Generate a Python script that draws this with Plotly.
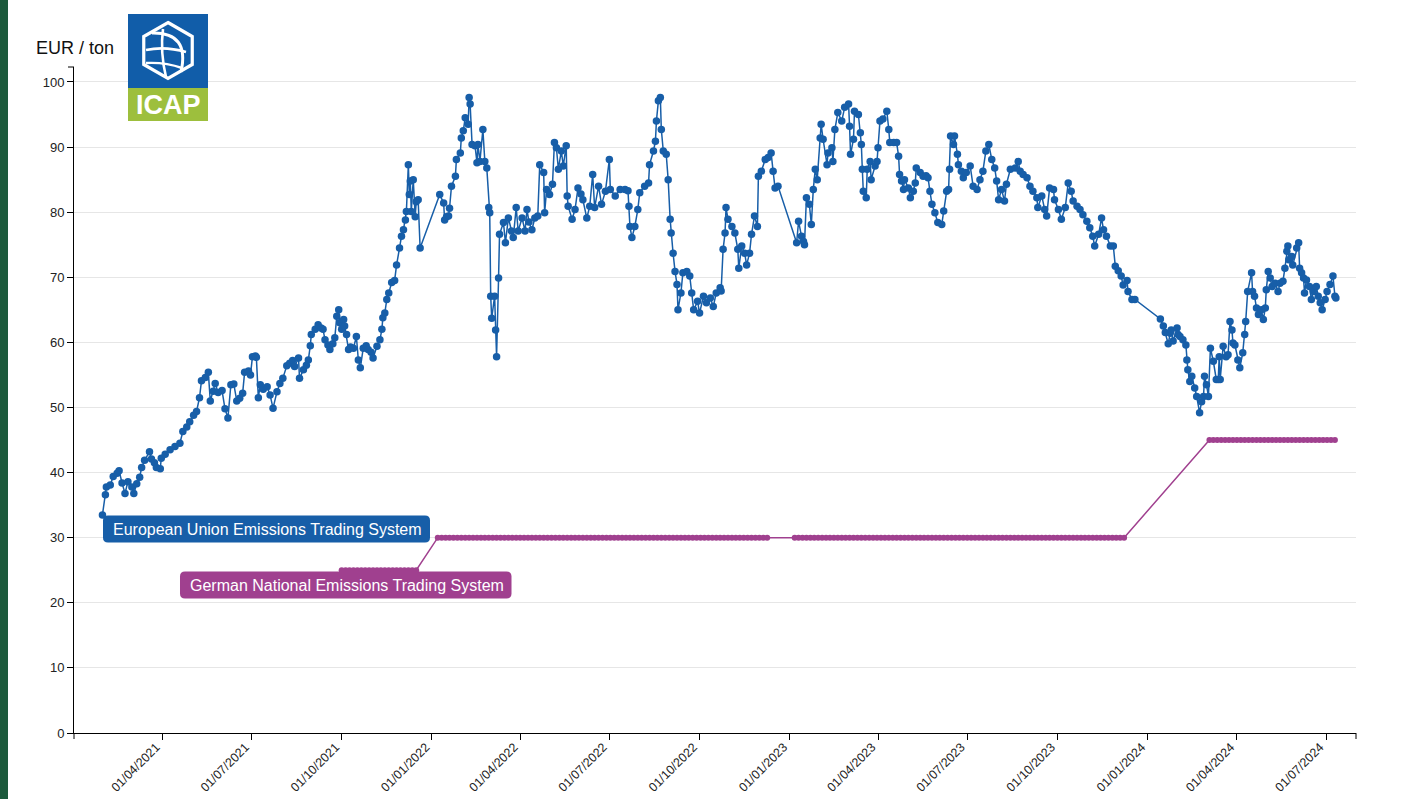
import plotly.graph_objects as go
import pandas as pd

# ---------------- data ----------------
BASE_DATE = "2021-01-01"  # eu_day_offsets are days counted from this date

eu_day_offsets = [
    29, 32, 33, 37, 40, 44, 46, 49, 52, 55,
    59, 61, 64, 67, 69, 72, 77, 79, 82, 84,
    88, 89, 93, 98, 103, 108, 111, 115, 118, 122,
    125, 128, 130, 134, 137, 139, 142, 144, 147, 151,
    154, 157, 160, 163, 166, 169, 172, 174, 178, 180,
    182, 185, 186, 188, 190, 193, 197, 200, 203, 207,
    210, 213, 217, 220, 223, 225, 229, 230, 234, 237,
    239, 241, 242, 246, 249, 252, 254, 256, 259, 261,
    264, 266, 268, 270, 271, 273, 275, 276, 278, 280,
    282, 285, 288, 290, 292, 295, 298, 300, 303, 305,
    309, 312, 314, 315, 317, 319, 321, 324, 327, 329,
    332, 334, 336, 338, 339, 341, 342, 343, 344, 346,
    348, 349, 351, 353, 373, 377, 378, 380, 382, 383,
    385, 389, 390, 394, 395, 397, 399, 402, 403, 404,
    406, 409, 411, 412, 414, 417, 419, 421, 423, 424,
    425, 426, 429, 430, 431, 433, 434, 438, 440, 443,
    446, 448, 451, 453, 457, 460, 462, 464, 467, 470,
    473, 475, 479, 480, 482, 485, 488, 490, 492, 494,
    497, 499, 502, 503, 504, 508, 511, 514, 517, 519,
    523, 526, 529, 531, 535, 538, 542, 546, 547, 552,
    557, 562, 565, 566, 567, 569, 572, 575, 577, 582,
    586, 587, 591, 593, 594, 596, 598, 599, 601, 604,
    606, 608, 609, 611, 613, 615, 616, 619, 621, 625,
    628, 630, 632, 636, 638, 642, 645, 649, 652, 655,
    659, 660, 662, 664, 665, 667, 671, 674, 677, 678,
    681, 684, 686, 689, 691, 694, 697, 698, 701, 705,
    708, 711, 713, 715, 718, 737, 739, 742, 744, 745,
    747, 750, 752, 754, 756, 758, 761, 762, 764, 768,
    769, 773, 774, 776, 779, 783, 786, 790, 791, 792,
    795, 796, 800, 802, 803, 804, 805, 808, 809, 812,
    813, 817, 819, 820, 822, 825, 829, 831, 832, 836,
    839, 841, 842, 844, 846, 847, 851, 853, 856, 858,
    859, 863, 866, 869, 871, 873, 875, 878, 881, 885,
    887, 890, 892, 893, 894, 897, 898, 901, 902, 905,
    907, 910, 914, 917, 921, 924, 927, 930, 933, 936,
    939, 941, 943, 946, 949, 951, 955, 960, 963, 965,
    968, 972, 975, 978, 982, 983, 987, 990, 992, 995,
    999, 1000, 1004, 1007, 1011, 1014, 1017, 1019, 1023, 1026,
    1029, 1033, 1036, 1039, 1041, 1045, 1048, 1050, 1053, 1057,
    1060, 1062, 1065, 1068, 1070, 1074, 1075, 1079, 1082, 1108,
    1111, 1113, 1116, 1118, 1119, 1121, 1125, 1126, 1128, 1131,
    1134, 1135, 1136, 1138, 1140, 1143, 1145, 1148, 1150, 1152,
    1153, 1155, 1157, 1159, 1162, 1165, 1167, 1168, 1169, 1172,
    1175, 1177, 1179, 1181, 1182, 1184, 1187, 1189, 1192, 1194,
    1195, 1197, 1201, 1202, 1204, 1206, 1208, 1211, 1213, 1215,
    1216, 1218, 1220, 1222, 1225, 1228, 1230, 1233, 1235, 1237,
    1238, 1239, 1242, 1243, 1247, 1249, 1250, 1252, 1254, 1255,
    1257, 1260, 1262, 1264, 1267, 1269, 1271, 1273, 1276, 1278,
    1281, 1284, 1286, 1287,
]

eu_prices = [
    33.5, 36.6, 37.8, 38.1, 39.4, 39.9, 40.3, 38.4, 36.8, 38.6,
    37.8, 36.8, 38.3, 39.3, 40.8, 41.9, 43.2, 42.1, 41.5, 40.8,
    40.6, 42.2, 42.8, 43.5, 44.0, 44.5, 46.3, 47.0, 47.8, 48.8,
    49.4, 51.5, 54.1, 54.6, 55.4, 51.0, 52.5, 53.7, 52.3, 52.6,
    49.8, 48.4, 53.5, 53.6, 51.0, 51.4, 52.2, 55.4, 55.6, 55.0,
    57.8, 57.9, 57.7, 51.5, 53.5, 52.8, 53.2, 51.9, 49.9, 52.4,
    53.7, 54.5, 56.4, 56.8, 57.2, 56.3, 57.6, 54.5, 55.8, 56.5,
    57.3, 59.5, 61.2, 62.0, 62.7, 62.2, 62.0, 60.4, 59.6, 58.9,
    59.8, 60.7, 64.0, 65.0, 63.0, 62.0, 63.5, 62.5, 61.2, 58.9,
    59.3, 59.1, 60.9, 57.3, 56.1, 59.1, 59.5, 58.9, 58.5, 57.6,
    59.4, 60.4, 62.0, 63.8, 64.5, 66.6, 67.6, 69.2, 69.5, 71.9,
    74.5, 76.3, 77.3, 78.8, 80.1, 87.3, 82.7, 84.8, 80.1, 85.0,
    79.3, 81.6, 81.9, 74.5, 82.7, 81.4, 78.8, 79.3, 79.4, 80.6,
    84.0, 85.5, 88.1, 89.1, 91.4, 92.5, 94.5, 93.5, 97.6, 96.6,
    90.4, 90.2, 87.6, 90.4, 87.8, 92.7, 87.8, 86.8, 80.7, 79.9,
    67.1, 63.7, 67.1, 61.9, 57.8, 69.9, 76.6, 78.4, 75.3, 79.1,
    77.1, 76.1, 80.7, 77.1, 79.1, 77.1, 80.4, 78.5, 77.3, 79.1,
    79.4, 87.3, 86.1, 79.9, 83.5, 82.7, 84.3, 90.7, 89.9, 86.6,
    89.4, 87.1, 90.2, 82.5, 80.9, 78.9, 80.4, 83.7, 82.8, 81.9,
    79.1, 80.9, 85.8, 80.7, 84.0, 81.2, 83.2, 88.1, 83.5, 82.5,
    83.5, 83.5, 83.3, 80.9, 77.8, 76.1, 77.8, 80.4, 83.0, 84.0,
    84.5, 87.3, 89.4, 90.9, 94.0, 97.1, 97.6, 92.7, 89.4, 88.9,
    85.0, 78.9, 76.8, 73.7, 70.9, 68.9, 65.0, 67.6, 70.7, 70.9,
    70.2, 67.6, 65.0, 66.3, 64.5, 67.1, 66.1, 66.8, 65.5, 67.6,
    68.4, 67.9, 74.3, 76.8, 80.7, 78.9, 77.8, 76.8, 74.3, 71.4,
    74.8, 73.7, 71.9, 73.7, 76.6, 79.4, 77.8, 85.5, 86.3, 88.1,
    88.4, 89.1, 86.3, 83.7, 84.0, 75.3, 78.6, 76.3, 75.5, 75.0,
    82.2, 81.2, 78.1, 83.5, 86.6, 85.0, 91.4, 93.5, 91.2, 87.3,
    89.1, 89.9, 87.8, 92.7, 95.3, 94.0, 96.1, 96.6, 93.2, 88.9,
    91.2, 95.5, 95.0, 92.2, 90.4, 86.6, 83.2, 82.2, 86.6, 87.8,
    85.0, 87.1, 87.8, 89.9, 94.0, 94.3, 95.5, 92.7, 90.7, 90.7,
    90.7, 88.6, 85.8, 84.8, 83.5, 85.0, 83.7, 82.2, 83.2, 84.5,
    86.8, 86.1, 85.5, 85.6, 85.3, 83.2, 81.2, 79.9, 78.4, 78.1,
    80.2, 83.2, 83.5, 86.6, 91.7, 90.4, 91.7, 88.9, 87.3, 86.3,
    85.3, 86.1, 87.1, 84.0, 83.5, 85.0, 86.3, 89.4, 90.4, 88.1,
    86.8, 84.8, 81.9, 83.5, 81.7, 84.3, 86.6, 86.8, 87.8, 86.3,
    85.8, 85.3, 84.0, 83.2, 82.2, 80.7, 82.5, 80.4, 79.4, 83.7,
    83.5, 81.9, 80.4, 78.9, 80.7, 84.5, 83.2, 81.7, 80.9, 80.4,
    79.6, 78.6, 77.6, 76.3, 74.8, 76.6, 79.1, 77.3, 76.3, 74.8,
    74.8, 71.7, 71.0, 70.2, 68.8, 69.5, 67.8, 66.6, 66.6, 63.6,
    62.5, 61.5, 59.8, 61.4, 61.9, 60.2, 62.2, 61.2, 60.9, 60.4,
    59.6, 57.3, 55.8, 54.0, 54.8, 53.0, 51.7, 49.2, 50.9, 51.7,
    54.8, 53.5, 51.7, 59.1, 57.1, 54.3, 54.3, 57.8, 54.3, 59.4,
    57.8, 58.1, 63.2, 61.9, 59.9, 59.6, 57.3, 56.1, 58.4, 61.2,
    63.2, 67.8, 70.7, 67.8, 67.1, 65.3, 64.3, 65.0, 63.5, 65.3,
    68.1, 70.9, 69.9, 68.6, 69.1, 67.8, 69.1, 69.4, 71.4, 74.0,
    74.8, 72.7, 73.2, 71.9, 74.5, 75.3, 71.4, 70.7, 69.9, 67.6,
    69.6, 68.6, 66.6, 67.8, 68.6, 67.1, 66.1, 65.0, 66.6, 67.8,
    68.9, 70.2, 67.1, 66.8,
]

# German nEHS: fixed price periods (start, end, EUR/ton)
de_period_start = ["2021-10-01", "2022-01-07", "2023-01-06", "2024-03-04"]
de_period_end = ["2021-12-17", "2022-12-09", "2023-12-08", "2024-07-12"]
de_period_price = [25, 30, 30, 45]

tick_dates = ["2021-04-01", "2021-07-01", "2021-10-01", "2022-01-01", "2022-04-01",
              "2022-07-01", "2022-10-01", "2023-01-01", "2023-04-01", "2023-07-01",
              "2023-10-01", "2024-01-01", "2024-04-01", "2024-07-01"]
tick_labels = ["01/04/2021", "01/07/2021", "01/10/2021", "01/01/2022", "01/04/2022",
               "01/07/2022", "01/10/2022", "01/01/2023", "01/04/2023", "01/07/2023",
               "01/10/2023", "01/01/2024", "01/04/2024", "01/07/2024"]
y_ticks = [0, 10, 20, 30, 40, 50, 60, 70, 80, 90, 100]

series_names = ["European Union Emissions Trading System",
                "German National Emissions Trading System"]
y_title = "EUR / ton"

assert len(eu_day_offsets) == len(eu_prices)

# ---------------- derived ----------------
eu_dates = pd.Timestamp(BASE_DATE) + pd.to_timedelta(eu_day_offsets, unit="D")

de_dates, de_prices = [], []
for s, e, p in zip(de_period_start, de_period_end, de_period_price):
    d = pd.date_range(s, e, freq="4D")
    de_dates.extend(list(d))
    de_prices.extend([p] * len(d))

# ---------------- style ----------------
BLUE = "#175ea8"
PURPLE = "#a0408f"
FONT = "Liberation Sans, Arial, Helvetica, sans-serif"
W, H = 1406, 799
PL, PT, PR, PB = 74, 67, 1356, 733  # plot area in pixels


def fx(px):
    return (px - PL) / (PR - PL)


def fy(py):
    return (PB - py) / (PB - PT)


def rounded_rect(x0, y0, x1, y1, r):
    pts = [
        ("M", [(x0 + r, y0)]), ("L", [(x1 - r, y0)]), ("Q", [(x1, y0), (x1, y0 + r)]),
        ("L", [(x1, y1 - r)]), ("Q", [(x1, y1), (x1 - r, y1)]), ("L", [(x0 + r, y1)]),
        ("Q", [(x0, y1), (x0, y1 - r)]), ("L", [(x0, y0 + r)]), ("Q", [(x0, y0), (x0 + r, y0)]),
    ]
    s = ""
    for cmd, ps in pts:
        s += cmd + " " + " ".join(f"{fx(a):.6f},{fy(b):.6f}" for a, b in ps) + " "
    return s + "Z"


def poly_path(points, close=True):
    s = "M " + " L ".join(f"{fx(a):.6f},{fy(b):.6f}" for a, b in points)
    return s + (" Z" if close else "")


fig = go.Figure()
fig.add_trace(go.Scatter(
    x=eu_dates, y=eu_prices, mode="lines+markers", name=series_names[0],
    line=dict(color=BLUE, width=1.5), marker=dict(color=BLUE, size=7.5),
    hoverinfo="x+y",
))
fig.add_trace(go.Scatter(
    x=de_dates, y=de_prices, mode="lines+markers", name=series_names[1],
    line=dict(color=PURPLE, width=1.5), marker=dict(color=PURPLE, size=6),
    hoverinfo="x+y",
))

shapes = []
# left dark green strip
shapes.append(dict(type="rect", xref="paper", yref="paper", x0=fx(0), x1=fx(8), y0=fy(H), y1=fy(0),
                   fillcolor="#1c5a3c", line=dict(width=0), layer="above"))
# axis outer ticks
shapes.append(dict(type="line", xref="paper", yref="paper", x0=fx(PL), x1=fx(PL), y0=fy(PB), y1=fy(PB + 6),
                   line=dict(color="#000", width=1)))
shapes.append(dict(type="line", xref="paper", yref="paper", x0=fx(PR), x1=fx(PR), y0=fy(PB), y1=fy(PB + 6),
                   line=dict(color="#000", width=1)))
shapes.append(dict(type="line", xref="paper", yref="paper", x0=fx(PL - 6), x1=fx(PL), y0=fy(PT), y1=fy(PT),
                   line=dict(color="#000", width=1)))
# series label boxes
shapes.append(dict(type="path", xref="paper", yref="paper", path=rounded_rect(103, 515.5, 430, 542.5, 5),
                   fillcolor=BLUE, line=dict(width=0), layer="above"))
shapes.append(dict(type="path", xref="paper", yref="paper", path=rounded_rect(180, 571.5, 511.5, 598.5, 5),
                   fillcolor=PURPLE, line=dict(width=0), layer="above"))
# ICAP logo
shapes.append(dict(type="rect", xref="paper", yref="paper", x0=fx(128), x1=fx(208), y0=fy(88), y1=fy(14),
                   fillcolor="#115da9", line=dict(width=0), layer="above"))
shapes.append(dict(type="rect", xref="paper", yref="paper", x0=fx(128), x1=fx(208), y0=fy(121), y1=fy(88),
                   fillcolor="#9dbf3d", line=dict(width=0), layer="above"))
cx, cy, r = 168, 50.5, 28
hexpts = [(cx, cy - r), (cx + 0.866 * r, cy - r / 2), (cx + 0.866 * r, cy + r / 2),
          (cx, cy + r), (cx - 0.866 * r, cy + r / 2), (cx - 0.866 * r, cy - r / 2)]
shapes.append(dict(type="path", xref="paper", yref="paper", path=poly_path(hexpts),
                   line=dict(color="white", width=3.2), layer="above"))
# globe lines inside the hexagon
shapes.append(dict(type="path", xref="paper", yref="paper",
                   path=f"M {fx(152):.6f},{fy(33):.6f} Q {fx(190):.6f},{fy(32):.6f} {fx(181):.6f},{fy(72):.6f}",
                   line=dict(color="white", width=3), layer="above"))
shapes.append(dict(type="path", xref="paper", yref="paper",
                   path=f"M {fx(146):.6f},{fy(50):.6f} Q {fx(165):.6f},{fy(46):.6f} {fx(186):.6f},{fy(52):.6f}",
                   line=dict(color="white", width=2.6), layer="above"))
shapes.append(dict(type="path", xref="paper", yref="paper",
                   path=f"M {fx(163):.6f},{fy(29):.6f} Q {fx(160):.6f},{fy(52):.6f} {fx(166):.6f},{fy(77):.6f}",
                   line=dict(color="white", width=2.6), layer="above"))
shapes.append(dict(type="path", xref="paper", yref="paper",
                   path=f"M {fx(146):.6f},{fy(63):.6f} Q {fx(165):.6f},{fy(62):.6f} {fx(182):.6f},{fy(68):.6f}",
                   line=dict(color="white", width=2.4), layer="above"))

annotations = [
    dict(xref="paper", yref="paper", x=fx(111), y=fy(529), xanchor="left", yanchor="middle",
         text=series_names[0], showarrow=False, font=dict(family=FONT, size=16, color="white")),
    dict(xref="paper", yref="paper", x=fx(188), y=fy(585), xanchor="left", yanchor="middle",
         text=series_names[1], showarrow=False, font=dict(family=FONT, size=16, color="white")),
    dict(xref="paper", yref="paper", x=fx(34), y=fy(48), xanchor="left", yanchor="middle",
         text=y_title, showarrow=False, font=dict(family=FONT, size=18, color="#111")),
    dict(xref="paper", yref="paper", x=fx(168), y=fy(105), xanchor="center", yanchor="middle",
         text="<b>ICAP</b>", showarrow=False, font=dict(family=FONT, size=27, color="white")),
]

fig.update_layout(
    width=W, height=H, autosize=False,
    margin=dict(l=PL, r=W - PR, t=PT, b=H - PB, pad=0),
    paper_bgcolor="white", plot_bgcolor="white",
    showlegend=False,
    font=dict(family=FONT, color="#222"),
    shapes=shapes, annotations=annotations,
    xaxis=dict(
        type="date", range=["2021-01-01", "2024-07-31 12:00"], automargin=False,
        tickmode="array", tickvals=tick_dates, ticktext=tick_labels,
        tickangle=-45, ticks="outside", ticklen=6, tickcolor="#000", tickwidth=1,
        ticklabelstandoff=-5, ticklabelshift=-6,
        showline=True, linecolor="#000", linewidth=1, showgrid=False, zeroline=False,
        tickfont=dict(family=FONT, size=12.5, color="#222"),
    ),
    yaxis=dict(
        range=[0, 102.3], tickmode="array", tickvals=y_ticks, automargin=False,
        ticks="outside", ticklen=6, tickcolor="#000", tickwidth=1,
        showline=True, linecolor="#000", linewidth=1,
        showgrid=True, gridcolor="#e6e6e6", gridwidth=1, zeroline=False,
        tickfont=dict(family=FONT, size=13, color="#222"),
    ),
)

fig.write_html("out.html", config={"displayModeBar": False},
               post_script="document.body.style.margin='0';document.body.style.overflow='hidden';")
